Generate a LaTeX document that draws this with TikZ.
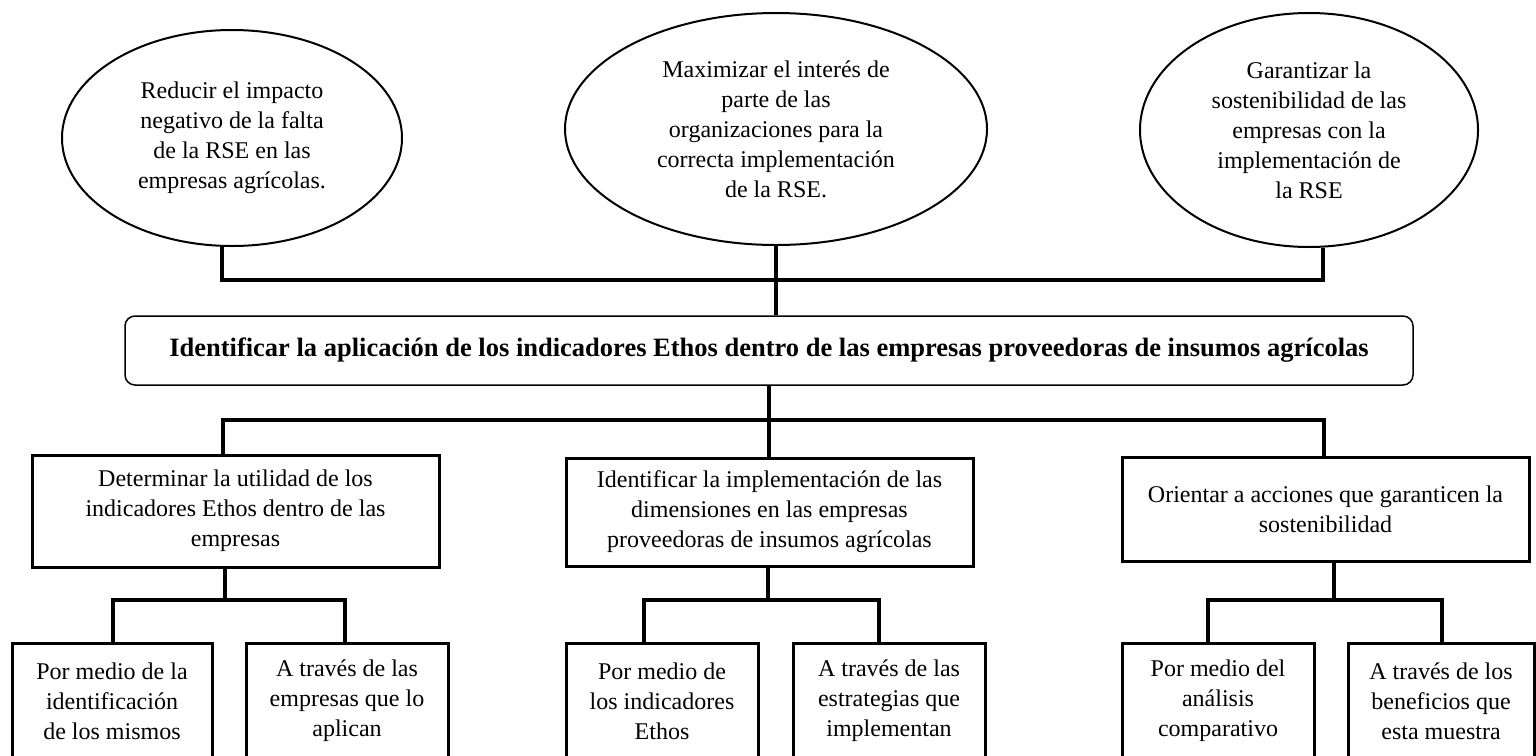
\documentclass[tikz,border=0pt]{standalone}
\usepackage{fontspec}
\setmainfont{Liberation Serif}
\usepackage{tikz}
\usetikzlibrary{shapes.geometric}

\tikzset{
  oval/.style={draw, ellipse, line width=2pt, inner sep=0pt, align=center,
    font=\fontsize{24}{30}\selectfont},
  goalbox/.style={draw, rounded corners=10pt, line width=1.5pt,
    minimum width=1288pt, minimum height=69pt, inner sep=0pt,
    font=\bfseries\fontsize{26.5}{30}\selectfont},
  objbox/.style={draw, line width=3pt, inner sep=0pt, align=center,
    font=\fontsize{24}{30}\selectfont},
  leafbox/.style={objbox, minimum height=116pt},
  link/.style={line width=4pt}
}

\begin{document}
\begin{tikzpicture}[x=1pt,y=-1pt]
\fill[white,use as bounding box] (0,0) rectangle (1536,755);
\clip (0,0) rectangle (1536,755);

% objetivos superiores
\node[oval, minimum width=340pt, minimum height=216pt] (e1) at (232,138)
  {Reducir el impacto\\negativo de la falta\\de la RSE en las\\empresas agrícolas.};
\node[oval, minimum width=422pt, minimum height=232pt] (e2) at (776,129)
  {Maximizar el interés de\\parte de las\\organizaciones para la\\correcta implementación\\de la RSE.};
\node[oval, minimum width=338pt, minimum height=234pt] (e3) at (1309,130)
  {Garantizar la\\sostenibilidad de las\\empresas con la\\implementación de\\la RSE};

% objetivo general
\node[goalbox] (goal) at (769,350.5)
  {Identificar la aplicación de los indicadores Ethos dentro de las empresas proveedoras de insumos agrícolas};

% objetivos especificos
\node[objbox, minimum width=407pt, minimum height=112pt] (A) at (235.5,511)
  {Determinar la utilidad de los\\indicadores Ethos dentro de las\\empresas};
\node[objbox, minimum width=407pt, minimum height=108pt] (B) at (769.5,512)
  {Identificar la implementación de las\\dimensiones en las empresas\\proveedoras de insumos agrícolas};
\node[objbox, minimum width=407pt, minimum height=104pt] (C) at (1325.5,509)
  {Orientar a acciones que garanticen la\\sostenibilidad};

% actividades
\node[leafbox, minimum width=200pt] (A1) at (112,701) {Por medio de la\\identificación\\de los mismos};
\node[leafbox, minimum width=202pt] (A2) at (347,701) {A través de las\\empresas que lo\\aplican};
\node[leafbox, minimum width=192pt] (B1) at (662,701) {Por medio de\\los indicadores\\Ethos};
\node[leafbox, minimum width=192pt] (B2) at (889,701) {A través de las\\estrategias que\\implementan};
\node[leafbox, minimum width=192pt] (C1) at (1218,701) {Por medio del\\análisis\\comparativo};
\node[leafbox, minimum width=186pt] (C2) at (1441,701) {A través de los\\beneficios que\\esta muestra};

% conectores
\coordinate (tj) at (768,280);
\coordinate (bl) at (223,420);
\coordinate (br) at (1324,420);
\coordinate (ja) at (225,600);
\coordinate (ja1) at (113,600);
\coordinate (ja2) at (345,600);
\coordinate (jb) at (768,600);
\coordinate (jb1) at (644,600);
\coordinate (jb2) at (879,600);
\coordinate (jc) at (1334,600);
\coordinate (jc1) at (1208,600);
\coordinate (jc2) at (1442,600);

\draw[link] (e1.265) |- (tj) -| (e3.277);
\draw[link] (e2.south) -- (e2.south |- goal.north);
\draw[link] (goal.south) -- (goal.south |- B.north);
\draw[link] (bl |- A.north) -- (bl) -- (br) -- (br |- C.north);

\draw[link] (ja |- A.south) -- (ja);
\draw[link] (ja1 |- A1.north) -- (ja1) -- (ja2) -- (ja2 |- A2.north);
\draw[link] (jb |- B.south) -- (jb);
\draw[link] (jb1 |- B1.north) -- (jb1) -- (jb2) -- (jb2 |- B2.north);
\draw[link] (jc |- C.south) -- (jc);
\draw[link] (jc1 |- C1.north) -- (jc1) -- (jc2) -- (jc2 |- C2.north);
\end{tikzpicture}
\end{document}
